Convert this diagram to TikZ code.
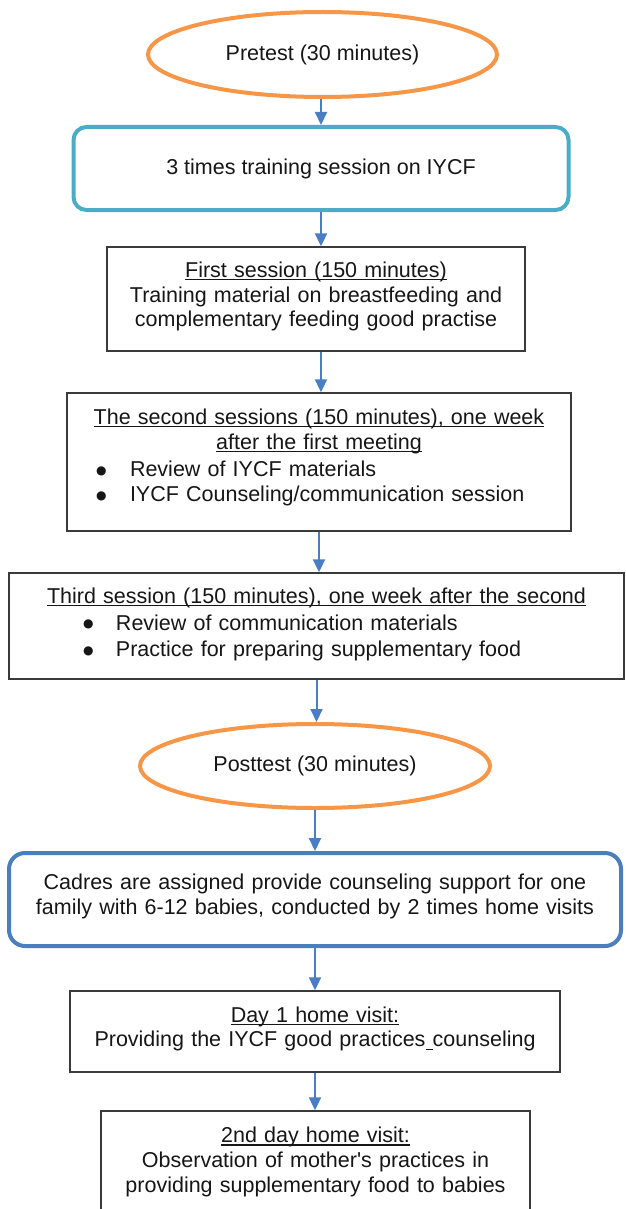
\documentclass[tikz,border=0pt]{standalone}
\usepackage{fontspec}
\setmainfont{Liberation Sans}[Ligatures=TeXOff]
\newfontfamily\dejavu{DejaVu Sans}
\usetikzlibrary{arrows.meta,shapes.geometric}
\definecolor{orng}{HTML}{F79646}
\definecolor{cyanb}{HTML}{4BACC6}
\definecolor{blueb}{HTML}{4A7EBF}
\definecolor{arrc}{HTML}{4A7EC4}
\definecolor{txt}{HTML}{161616}
\definecolor{edge}{HTML}{3A3A3A}
\newsavebox{\ulbox}
\newcommand{\myul}[1]{\sbox{\ulbox}{#1}\leavevmode\rlap{\rule[-2.8pt]{\wd\ulbox}{1.2pt}}\usebox{\ulbox}}
\newcommand{\bigdot}{\raisebox{2.6pt}{\dejavu\fontsize{12pt}{12pt}\selectfont ●}}
\newcommand{\bitem}[3]{\makebox[\linewidth][l]{\hspace*{#1}\makebox[#2][l]{\bigdot}#3}}
\begin{document}
\begin{tikzpicture}[x=1pt,y=-1pt,
  font=\fontsize{21.5pt}{24.8pt}\selectfont, text=txt,
  oval/.style={ellipse, draw=orng, line width=4pt, inner sep=0pt},
  sbox/.style={draw=edge, line width=1.4pt, align=center, inner sep=0pt},
  rbox/.style={rounded corners=#1, line width=4pt, align=center, inner sep=0pt},
  arr/.style={draw=arrc, line width=2pt, -{Triangle[width=12pt,length=13pt]}}]
\useasboundingbox (0,0) rectangle (625,1209);
\clip (0,0) rectangle (625,1209);

\node[oval, minimum width=349pt, minimum height=85pt] (pre) at (322.5,54.5) {Pretest (30 minutes)};

\node[rbox=13pt, draw=cyanb, minimum width=495pt, minimum height=83pt] (b2) at (321,168.5)
  {3 times training session on IYCF};

\node[sbox, text width=418pt, minimum height=104pt] (b3) at (316,299)
  {\myul{First session (150 minutes)}\\
   Training material on breastfeeding and\\
   complementary feeding good practise\par\vspace{5pt}};

\node[sbox, text width=504pt, minimum height=138pt] (b4) at (319,462)
  {\myul{The second sessions (150 minutes), one week}\\
   \myul{after the first meeting}\\[3pt]
   \bitem{29pt}{34pt}{Review of IYCF materials}\\
   \bitem{29pt}{34pt}{IYCF Counseling/communication session}\par\vspace{9pt}};

\node[sbox, text width=615pt, minimum height=106pt] (b5) at (316.5,626)
  {\myul{Third session (150 minutes), one week after the second}\\[2pt]
   \bitem{74pt}{33pt}{Review of communication materials}\\[1.5pt]
   \bitem{74pt}{33pt}{Practice for preparing supplementary food}\par\vspace{3pt}};

\node[oval, minimum width=350pt, minimum height=84pt] (post) at (315,766) {Posttest (30 minutes)};

\node[rbox=16pt, draw=blueb, text width=612pt, minimum height=93pt] (b6) at (315,899.5)
  {Cadres are assigned provide counseling support for one\\
   family with 6-12 babies, conducted by 2 times home visits\par\vspace{6pt}};

\node[sbox, text width=490pt, minimum height=81pt] (b7) at (315,1031.5)
  {\myul{Day 1 home visit:}\\
   Providing the IYCF good practices\myul{\ }counseling\par\vspace{5pt}};

\node[sbox, text width=429pt, minimum height=108pt] (b8) at (315.5,1165)
  {\myul{2nd day home visit:}\\
   Observation of mother's practices in\\
   providing supplementary food to babies\par\vspace{6pt}};

\draw[arr] (b2.north |- pre.south) -- (b2.north);
\draw[arr] (b2.south) -- (b2.south |- b3.north);
\draw[arr] (b2.south |- b3.south) -- (b2.south |- b4.north);
\draw[arr] (b4.south) -- (b4.south |- b5.north);
\draw[arr] (b5.south) -- (b5.south |- post.north);
\draw[arr] (post.south) -- (post.south |- b6.north);
\draw[arr] (b6.south) -- (b6.south |- b7.north);
\draw[arr] (b7.south) -- (b7.south |- b8.north);
\end{tikzpicture}
\end{document}
